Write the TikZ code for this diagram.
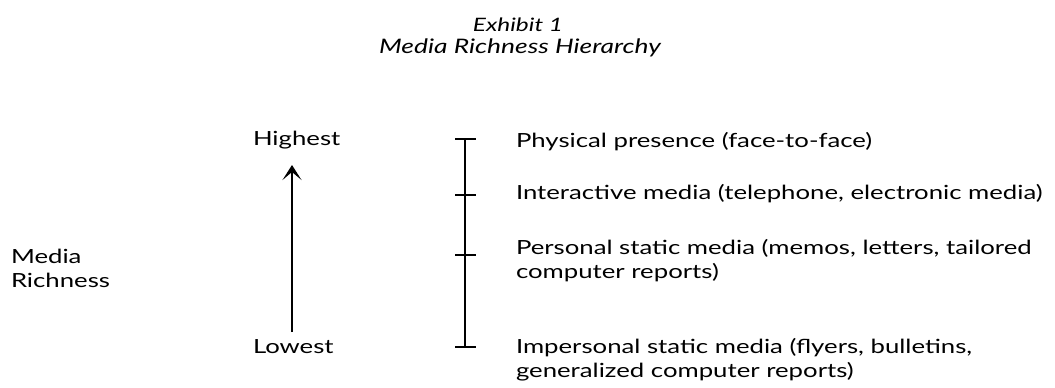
\documentclass[tikz,border=0pt]{standalone}
\usepackage{fontspec}
\setmainfont{Lato}[FakeStretch=1.32]
\usepackage{tikz}
\usetikzlibrary{positioning, arrows.meta}
\tikzset{%
  every node/.style={inner sep=0pt, outer sep=0pt}, % plain text, no frames
  txt/.style={font=\fontsize{19.5}{24}\selectfont, align=left},
  ttl/.style={font=\itshape\fontsize{20}{24}\selectfont},
  bar/.style={line width=1.8pt},
  tick/.style={line width=1.6pt},
}

\begin{document}
\begin{tikzpicture}[x=1pt, y=-1pt]

\useasboundingbox (0,0) rectangle (1055,388);

% heading
\node[ttl, font=\itshape\fontsize{18.5}{20}\selectfont] (exh) at (518,25) {Exhibit 1};
\node[ttl] (head) at (520,48) {Media Richness Hierarchy};

% left side
\node[txt, anchor=north west] (rich) at (11,249) {Media\\Richness};
\node[txt, anchor=base west] (hi) at (253,145) {Highest};
\node[txt, anchor=base west] (lo) at (253,353) {Lowest};
\coordinate (up) at (292,165);
\coordinate (dn) at (292,332);
\draw[line width=1.2pt, -{Stealth[length=15pt, width=19pt, inset=8pt]}] (dn) -- (up);

% the scale
\foreach \i/\y in {1/139, 2/195, 3/255, 4/347}
  \coordinate (t\i) at (465,\y);
\draw[bar] (t1) -- (t4);
\foreach \i in {1,...,4}
  \draw[tick] ([xshift=-10pt]t\i) -- ([xshift=11pt]t\i);

% media, richest first
\node[txt, anchor=base west] (m1) at (516,147) {Physical presence (face-to-face)};
\node[txt, anchor=base west] (m2) at (516,199) {Interactive media (telephone, electronic media)};
\node[txt, anchor=north west] (m3) at (516,239) {Personal static media (memos, letters, tailored\\computer reports)};
\node[txt, anchor=north west] (m4) at (516,338) {Impersonal static media (flyers, bulletins,\\generalized computer reports)};

\end{tikzpicture}
\end{document}
